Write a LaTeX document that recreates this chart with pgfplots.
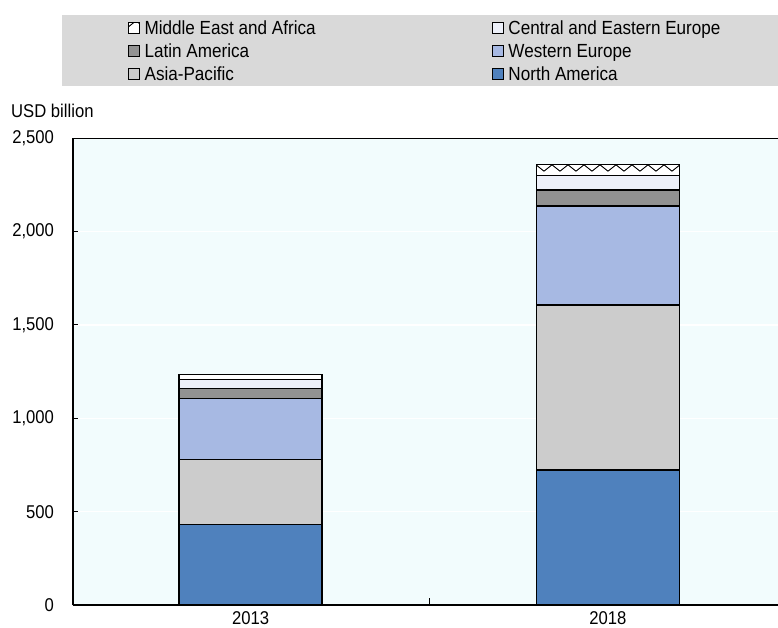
\documentclass[border=0pt]{standalone}
\usepackage{fontspec}
\setmainfont{Liberation Sans}[FakeStretch=0.9]
\usepackage{pgfplots}
\pgfplotsset{compat=1.18}
\usetikzlibrary{patterns}

\definecolor{bgplot}{RGB}{242,252,253}
\definecolor{legbg}{RGB}{217,217,217}
\definecolor{namer}{RGB}{79,129,189}
\definecolor{asiap}{RGB}{204,204,204}
\definecolor{weur}{RGB}{167,185,227}
\definecolor{latam}{RGB}{146,146,146}
\definecolor{ceeur}{RGB}{237,240,249}

% zigzag hatching for Middle East and Africa
\pgfdeclarepatternformonly{zigzag}{\pgfpoint{-1bp}{-1bp}}{\pgfpoint{17bp}{25bp}}{\pgfpoint{16bp}{24bp}}{%
  \pgfsetlinewidth{0.9bp}
  \pgfpathmoveto{\pgfpoint{0bp}{0.8bp}}
  \pgfpathlineto{\pgfpoint{8bp}{7.2bp}}
  \pgfpathlineto{\pgfpoint{16bp}{0.8bp}}
  \pgfusepath{stroke}}

\pgfplotsset{
  segment/.style={draw=black, line width=1.4bp,
    legend image code/.code={\draw[##1, line width=0.9bp] (0bp,-5.5bp) rectangle (11bp,5.5bp);}},
}

\begin{document}
\begin{tikzpicture}
\useasboundingbox (0,0) rectangle (778bp,628bp);
\fill[legbg] (62bp,542bp) rectangle (778bp,613bp);
\node[anchor=base west, inner sep=0pt, font=\fontsize{18.5bp}{20bp}\selectfont] at (11bp,510bp) {USD billion};
\begin{axis}[
  at={(72.7bp,23bp)}, anchor=south west,
  scale only axis, width=705.3bp, height=466.7bp,
  ybar stacked, bar width=143bp,
  xmin=-0.498, xmax=1.476, ymin=0, ymax=2500,
  axis lines*=left,
  axis line style={line width=1.8bp, black},
  axis background/.style={fill=bgplot},
  xtick={0,1}, xticklabels={2013,2018},
  minor xtick={0.5},
  major x tick style={draw=none},
  minor x tick style={black, line width=1bp},
  minor tick length=7bp,
  ytick={0,500,...,2500},
  major tick length=5bp,
  tick align=inside,
  y tick style={black, line width=1bp},
  ymajorgrids, grid style={white, line width=1.2bp},
  scaled y ticks=false,
  /pgf/number format/1000 sep={,},
  /pgf/number format/assume math mode=true,
  ticklabel style={font=\fontsize{18.5bp}{20bp}\selectfont},
  yticklabel style={inner sep=0pt, xshift=-18.5bp},
  xticklabel style={inner sep=0pt, yshift=-6bp},
  legend columns=2, reverse legend,
  legend cell align=left,
  legend style={draw=none, fill=none, at={(0.0784,1.2507)}, anchor=north west,
    inner sep=0pt, column sep=0pt, row sep=9.5bp,
    font=\fontsize{19bp}{21bp}\selectfont,
    nodes={inner xsep=4.5bp, inner ysep=0pt, text height=13.5bp, text depth=0pt}},
]
\addplot[segment, fill=namer] coordinates {(0,430) (1,723)};
\addlegendentry{North America}
\addplot[segment, fill=asiap] coordinates {(0,350) (1,884)};
\addlegendentry{\makebox[343bp][l]{Asia-Pacific}}
\addplot[segment, fill=weur] coordinates {(0,325) (1,530)};
\addlegendentry{Western Europe}
\addplot[segment, fill=latam] coordinates {(0,54) (1,86)};
\addlegendentry{\makebox[343bp][l]{Latin America}}
\addplot[segment, fill=ceeur] coordinates {(0,50) (1,77)};
\addlegendentry{Central and Eastern Europe}
\addplot[segment, preaction={fill=white}, pattern=zigzag] coordinates {(0,27) (1,60)};
\addlegendentry{\makebox[343bp][l]{Middle East and Africa}}
\draw[line width=1.8bp, line cap=rect] (rel axis cs:0,1) -- (rel axis cs:1,1);
\end{axis}
\end{tikzpicture}
\end{document}
